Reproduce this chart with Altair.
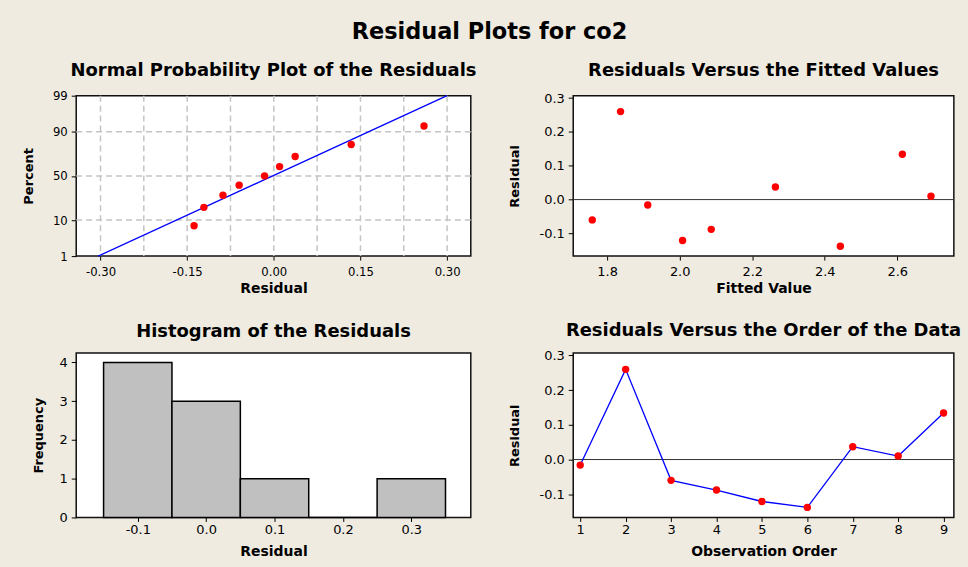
import altair as alt
import pandas as pd
from statistics import NormalDist

# ---------------- data ----------------
obs_order = [1, 2, 3, 4, 5, 6, 7, 8, 9]
residuals = [-0.016, 0.260, -0.060, -0.088, -0.121, -0.138, 0.037, 0.010, 0.134]
fitted_values = [1.912, 1.837, 1.759, 2.087, 2.008, 2.443, 2.264, 2.693, 2.614]
npp_percent = [7.4, 18.1, 28.7, 39.4, 50.0, 60.6, 71.3, 81.9, 92.6]
fit_line_residual = [-0.304, 0.300]
fit_line_percent = [1, 99]
hist_bin_start = [-0.15, -0.05, 0.05, 0.15, 0.25]
hist_bin_end = [-0.05, 0.05, 0.15, 0.25, 0.35]
hist_count = [4, 3, 1, 0, 1]

npp_x_ticks = [-0.30, -0.15, 0.00, 0.15, 0.30]
npp_x_grid = [-0.30, -0.225, -0.15, -0.075, 0.00, 0.075, 0.15, 0.225, 0.30]
npp_pct_ticks = [1, 10, 50, 90, 99]
npp_pct_labels = ["1", "10", "50", "90", "99"]
npp_pct_grid = [10, 50, 90]
fitted_x_ticks = [1.8, 2.0, 2.2, 2.4, 2.6]
resid_y_ticks = [-0.1, 0.0, 0.1, 0.2, 0.3]
hist_x_ticks = [-0.1, 0.0, 0.1, 0.2, 0.3]
hist_y_ticks = [0, 1, 2, 3, 4]
order_x_ticks = obs_order

main_title = "Residual Plots for co2"
title_npp = "Normal Probability Plot of the Residuals"
title_fit = "Residuals Versus the Fitted Values"
title_hist = "Histogram of the Residuals"
title_order = "Residuals Versus the Order of the Data"

# axis extents (data units)
npp_x_dom = [-0.342, 0.341]
fit_x_dom = [1.7065, 2.756]
resid_y_dom = [-0.167, 0.307]
hist_x_dom = [-0.19, 0.387]
hist_y_dom = [0, 4.242]
order_x_dom = [0.846, 9.226]

# ---------------- style ----------------
BG = "#EFEBE1"
RED = "#FF0000"
BLUE = "#0000FF"
F_REG = "DejaVu Sans"
F_COND = "DejaVu Sans Condensed, DejaVu Sans"
MINUS = "\u2212"

nd = NormalDist()


def pz(p):
    return nd.inv_cdf(p / 100.0)


npp_y_dom = [pz(fit_line_percent[0]), pz(fit_line_percent[1])]


def sc(dom):
    return alt.Scale(domain=dom, nice=False, zero=False)


def hyphen_expr(fmt):
    return f"replace(format(datum.value, '{fmt}'), '{MINUS}', '-')"


def x_axis(values, expr, title, font, label_dist, title_dist):
    return alt.Axis(
        orient="bottom", values=values, labelExpr=expr,
        title=title, grid=False, domain=False, ticks=True, tickSize=4, tickColor="black",
        tickWidth=1, labelFont=font, labelFontSize=13, labelColor="black",
        labelPadding=label_dist - 4, labelBaseline="alphabetic", labelFlush=False,
        labelOverlap=False, minExtent=20, maxExtent=20,
        titleFont=F_REG, titleFontSize=14, titleFontWeight="bold", titleColor="black",
        titleBaseline="alphabetic", titlePadding=title_dist - 20,
    )


def y_axis(values, expr, title, font, title_dist):
    return alt.Axis(
        orient="left", values=values, labelExpr=expr,
        title=title, grid=False, domain=False, ticks=True, tickSize=5, tickColor="black",
        tickWidth=1, labelFont=font, labelFontSize=13, labelColor="black",
        labelPadding=4, labelBaseline="middle", labelFlush=False, labelOverlap=False,
        minExtent=25, maxExtent=25,
        titleFont=F_REG, titleFontSize=13, titleFontWeight="bold", titleColor="black",
        titleBaseline="alphabetic", titlePadding=title_dist - 25,
    )


def ptitle(text, off):
    return alt.TitleParams(
        text=text, font=F_REG, fontSize=18, fontWeight="bold", color="black",
        anchor="middle", frame="group", baseline="alphabetic", offset=off,
    )


one = pd.DataFrame({"k": [0]})


def zero_line(ys, ax):
    return alt.Chart(one).mark_rule(color="#333333", strokeWidth=1).encode(
        y=alt.YDatum(datum=0, type="quantitative", scale=ys, axis=ax)
    )


# ---------------- panel 1: normal probability plot ----------------
xs1, ys1 = sc(npp_x_dom), sc(npp_y_dom)
df_npp = pd.DataFrame({"residual": sorted(residuals), "percent": npp_percent})
df_npp["z"] = [pz(p) for p in df_npp["percent"]]
df_fit = pd.DataFrame({"residual": fit_line_residual, "percent": fit_line_percent})
df_fit["z"] = [pz(p) for p in df_fit["percent"]]
df_vgrid = pd.DataFrame({"residual": npp_x_grid})
df_hgrid = pd.DataFrame({"z": [pz(p) for p in npp_pct_grid]})

pct_expr = " : ".join(
    f"abs(datum.value - ({pz(p):.6f})) < 0.001 ? '{lab}'" for p, lab in zip(npp_pct_ticks, npp_pct_labels)
) + " : ''"

ax1x = x_axis(npp_x_ticks, hyphen_expr(".2f"), "Residual", F_COND, 19, 36.3)
ax1y = y_axis([pz(p) for p in npp_pct_ticks], pct_expr, "Percent", F_COND, 43.7)

grid_style = dict(color="#C4C4C4", strokeWidth=1.5, strokeDash=[6, 4])
p1 = alt.layer(
    alt.Chart(df_vgrid).mark_rule(**grid_style).encode(
        x=alt.X("residual:Q", scale=xs1, axis=ax1x)),
    alt.Chart(df_hgrid).mark_rule(**grid_style).encode(
        y=alt.Y("z:Q", scale=ys1, axis=ax1y)),
    alt.Chart(df_fit).mark_line(color=BLUE, strokeWidth=1.3).encode(
        x=alt.X("residual:Q", scale=xs1, axis=ax1x), y=alt.Y("z:Q", scale=ys1, axis=ax1y)
    ),
    alt.Chart(df_npp).mark_circle(size=55, color=RED, opacity=1).encode(
        x=alt.X("residual:Q", scale=xs1, axis=ax1x),
        y=alt.Y("z:Q", scale=ys1, axis=ax1y),
    ),
).properties(width=396, height=161, title=ptitle(title_npp, -4))

# ---------------- panel 2: residuals vs fitted ----------------
xs2, ys2 = sc(fit_x_dom), sc(resid_y_dom)
df_res = pd.DataFrame({"order": obs_order, "fitted": fitted_values, "residual": residuals})
ax2x = x_axis(fitted_x_ticks, hyphen_expr(".1f"), "Fitted Value", F_REG, 19, 36.3)
ax2y = y_axis(resid_y_ticks, hyphen_expr(".1f"), "Residual", F_REG, 54.6)
p2 = alt.layer(
    zero_line(ys2, ax2y),
    alt.Chart(df_res).mark_circle(size=55, color=RED, opacity=1).encode(
        x=alt.X("fitted:Q", scale=xs2, axis=ax2x),
        y=alt.Y("residual:Q", scale=ys2, axis=ax2y),
    ),
).properties(width=382, height=161, title=ptitle(title_fit, -1.4))

# ---------------- panel 3: histogram ----------------
xs3, ys3 = sc(hist_x_dom), sc(hist_y_dom)
df_hist = pd.DataFrame({"start": hist_bin_start, "end": hist_bin_end, "count": hist_count})
ax3x = x_axis(hist_x_ticks, hyphen_expr(".1f"), "Residual", F_REG, 16.2, 38.4)
ax3y = y_axis(hist_y_ticks, "format(datum.value, 'd')", "Frequency", F_REG, 33.5)
p3 = alt.layer(
    alt.Chart(df_hist).mark_rect(fill="#C0C0C0", stroke="black", strokeWidth=1.5).encode(
        x=alt.X("start:Q", scale=xs3, axis=ax3x),
        x2="end:Q",
        y=alt.Y("count:Q", scale=ys3, axis=ax3y),
        y2=alt.Y2Datum(datum=0),
    ),
).properties(width=396, height=165, title=ptitle(title_hist, -1.5))

# ---------------- panel 4: residuals vs order ----------------
xs4, ys4 = sc(order_x_dom), sc(resid_y_dom)
ax4x = x_axis(order_x_ticks, "format(datum.value, 'd')", "Observation Order", F_REG, 16, 38.4)
ax4y = y_axis(resid_y_ticks, hyphen_expr(".1f"), "Residual", F_REG, 54.6)
p4 = alt.layer(
    zero_line(ys4, ax4y),
    alt.Chart(df_res).mark_line(color=BLUE, strokeWidth=1.3).encode(
        x=alt.X("order:Q", scale=xs4, axis=ax4x), y=alt.Y("residual:Q", scale=ys4, axis=ax4y)
    ),
    alt.Chart(df_res).mark_circle(size=55, color=RED, opacity=1).encode(
        x=alt.X("order:Q", scale=xs4, axis=ax4x),
        y=alt.Y("residual:Q", scale=ys4, axis=ax4y),
    ),
).properties(width=382, height=165, title=ptitle(title_order, -4.6))

chart = alt.concat(
    p1, p2, p3, p4, columns=2, spacing={"row": 97.3, "column": 102.8},
    bounds="flush", align="each",
).properties(
    padding={"left": 21.5, "top": 20, "right": 5, "bottom": 8},
    background=BG,
    title=alt.TitleParams(
        text=main_title, font=F_REG, fontSize=22.5, fontWeight="bold", color="black",
        anchor="middle", baseline="alphabetic", offset=-1, dx=-2.5,
    ),
).configure_view(stroke="#111111", strokeWidth=1.5, fill="white")

chart.save("out.html", embed_options={"renderer": "svg", "actions": False})
